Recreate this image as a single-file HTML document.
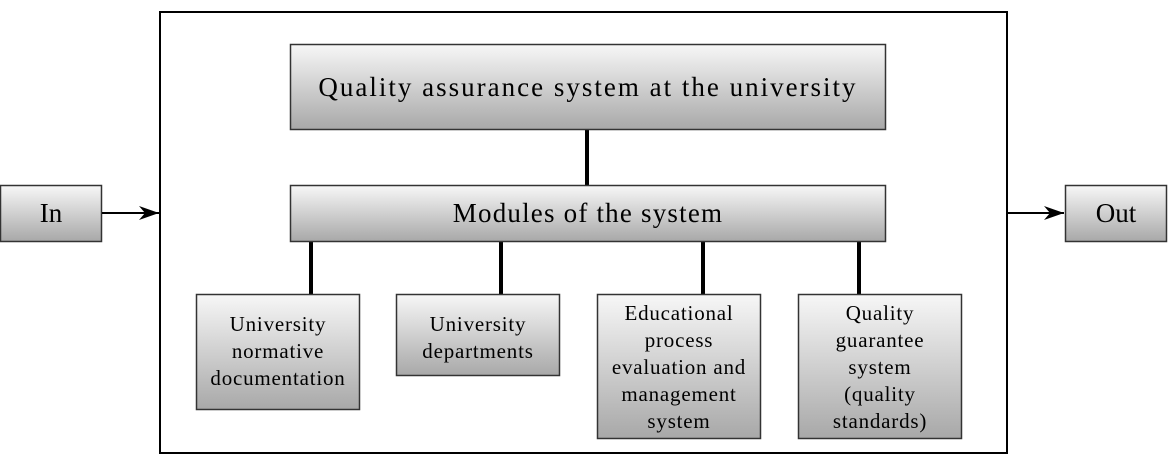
<!DOCTYPE html>
<html><head><meta charset="utf-8"><style>
html,body{margin:0;padding:0;background:#fff;}
text{font-family:"Liberation Serif","Times New Roman","DejaVu Serif",serif !important;fill:#000;}
</style></head><body>
<svg width="1168" height="455" xmlns="http://www.w3.org/2000/svg" font-family="Liberation Serif, Times New Roman, DejaVu Serif, serif">
<defs>
<linearGradient id="g" x1="0" y1="0" x2="0" y2="1">
<stop offset="0" stop-color="#f7f7f7"/><stop offset="1" stop-color="#a8a8a8"/>
</linearGradient>
<marker id="a" markerWidth="20" markerHeight="14" refX="20" refY="7" orient="auto" markerUnits="userSpaceOnUse">
<path d="M0,0 L20,7 L0,14 L6,7 Z" fill="#000"/>
</marker>
</defs>
<rect x="160" y="12" width="847" height="441" fill="#fff" stroke="#000" stroke-width="2"/>
<g stroke="#000" stroke-width="4">
<line x1="587" y1="129" x2="587" y2="185"/>
<line x1="311" y1="241" x2="311" y2="294"/>
<line x1="501" y1="241" x2="501" y2="294"/>
<line x1="703" y1="241" x2="703" y2="294"/>
<line x1="859" y1="241" x2="859" y2="294"/>
</g>
<g fill="url(#g)" stroke="#333" stroke-width="1.5">
<rect x="290.5" y="44.5" width="595" height="85"/>
<rect x="290.5" y="185.5" width="595" height="56"/>
<rect x="196.5" y="294.5" width="163" height="115"/>
<rect x="396.5" y="294.5" width="163" height="81"/>
<rect x="597.5" y="294.5" width="163" height="144"/>
<rect x="798.5" y="294.5" width="163" height="144"/>
<rect x="0.5" y="185.5" width="101" height="56"/>
<rect x="1065.5" y="185.5" width="101" height="56"/>
</g>
<g stroke="#000" stroke-width="2">
<line x1="102" y1="213" x2="159" y2="213" marker-end="url(#a)"/>
<line x1="1008" y1="213" x2="1064" y2="213" marker-end="url(#a)"/>
</g>
<g text-anchor="middle">
<text x="588" y="96" font-size="27" letter-spacing="2">Quality assurance system at the university</text>
<text x="588" y="222" font-size="27" letter-spacing="1.2">Modules of the system</text>
<text x="51" y="222" font-size="27">In</text>
<text x="1116" y="222" font-size="27">Out</text>
<g font-size="21" letter-spacing="0.8">
<text x="278" y="331">University</text>
<text x="278" y="358">normative</text>
<text x="278" y="385">documentation</text>
<text x="478" y="331">University</text>
<text x="478" y="358">departments</text>
<text x="679" y="320">Educational</text>
<text x="679" y="347">process</text>
<text x="679" y="374">evaluation and</text>
<text x="679" y="401">management</text>
<text x="679" y="428">system</text>
<text x="880" y="320">Quality</text>
<text x="880" y="347">guarantee</text>
<text x="880" y="374">system</text>
<text x="880" y="401">(quality</text>
<text x="880" y="428">standards)</text>
</g>
</g>
</svg>
</body></html>
